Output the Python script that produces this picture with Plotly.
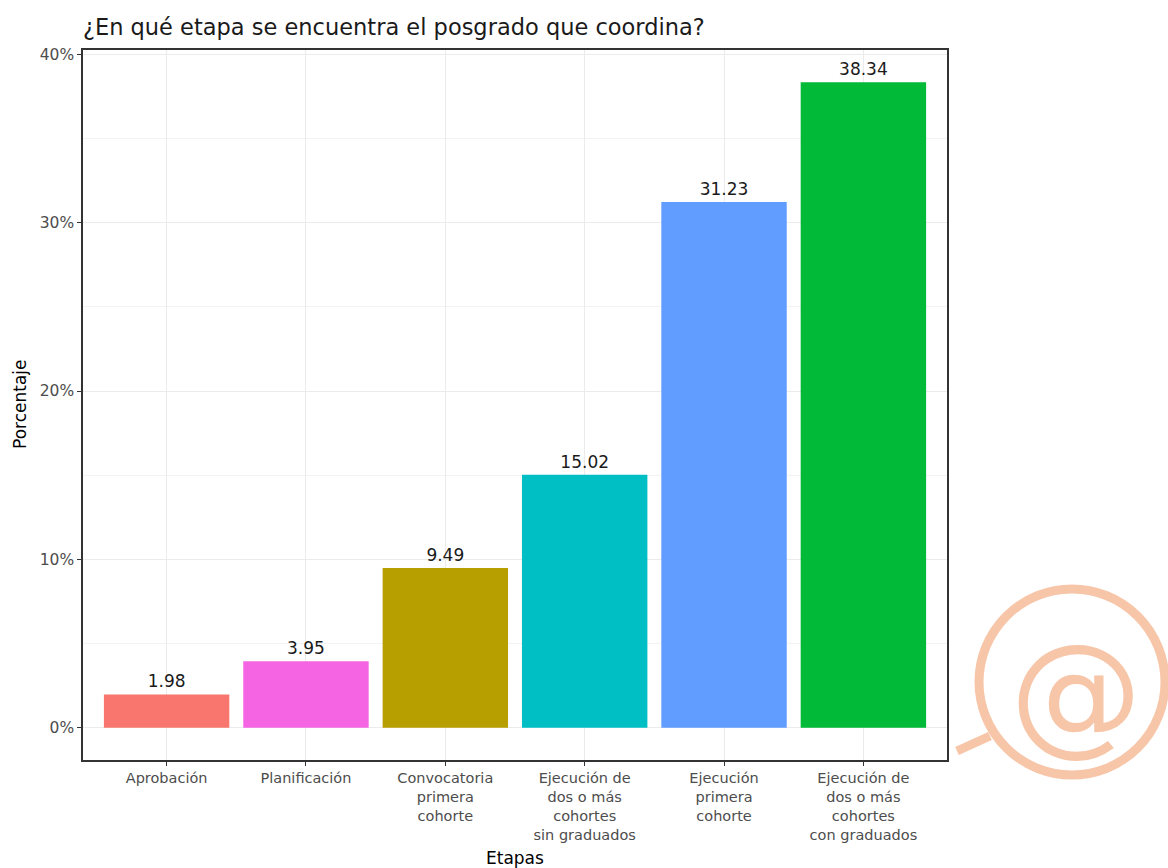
import plotly.graph_objects as go

# Survey results: stage of the graduate programme
etapas = [
    "Aprobación",
    "Planificación",
    "Convocatoria<br>primera<br>cohorte",
    "Ejecución de<br>dos o más<br>cohortes<br>sin graduados",
    "Ejecución<br>primera<br>cohorte",
    "Ejecución de<br>dos o más<br>cohortes<br>con graduados",
]
porcentajes = [1.98, 3.95, 9.49, 15.02, 31.23, 38.34]
colores = ["#F8766D", "#F564E3", "#B79F00", "#00BFC4", "#619CFF", "#00BA38"]
y_ticks = [0, 10, 20, 30, 40]
y_tick_labels = ["0%", "10%", "20%", "30%", "40%"]
y_minor = [5, 15, 25, 35]

FONT = "DejaVu Sans"
W, H = 1168, 868
L, R, T, B = 83, 221, 50, 108
pw, ph = W - L - R, H - T - B

xs = list(range(1, len(etapas) + 1))

fig = go.Figure()
fig.add_trace(go.Bar(
    x=xs, y=porcentajes, width=0.9,
    marker=dict(color=colores, line=dict(width=0)),
    text=[f"{v:.2f}" for v in porcentajes],
    textposition="outside", cliponaxis=False,
    textfont=dict(family=FONT, size=17, color="#1a1a1a"),
    showlegend=False, hoverinfo="skip",
))

ymax = max(porcentajes)
pad = 0.05 * ymax


def px(x):
    """pixel x -> paper x"""
    return (x - L) / pw


def py(y):
    """pixel y -> paper y"""
    return 1 - (y - T) / ph


# watermark: magnifying glass with "@"
wm = "#F7C6A9"
cx, cy, r = 1072, 682, 93
shapes = [
    dict(type="circle", xref="paper", yref="paper",
         x0=px(cx - r), x1=px(cx + r), y0=py(cy + r), y1=py(cy - r),
         line=dict(color=wm, width=9), layer="above"),
    dict(type="line", xref="paper", yref="paper",
         x0=px(957), y0=py(751), x1=px(990), y1=py(736),
         line=dict(color=wm, width=9), layer="above"),
]

annotations = [
    dict(text="@", xref="paper", yref="paper",
         x=px(1076), y=py(692), xanchor="center", yanchor="middle",
         showarrow=False, font=dict(family=FONT, size=132, color=wm)),
    dict(text="Etapas", xref="paper", yref="paper",
         x=px(515), y=py(858), xanchor="center", yanchor="middle",
         showarrow=False, font=dict(family=FONT, size=17, color="#000000")),
    dict(text="Porcentaje", xref="paper", yref="paper", textangle=-90,
         x=px(20), y=py(404), xanchor="center", yanchor="middle",
         showarrow=False, font=dict(family=FONT, size=17, color="#000000")),
]

fig.update_layout(
    width=W, height=H,
    margin=dict(l=L, r=R, t=T, b=B, autoexpand=False),
    paper_bgcolor="white", plot_bgcolor="white",
    title=dict(text="¿En qué etapa se encuentra el posgrado que coordina?",
               xref="container", x=83 / W, xanchor="left",
               yref="container", y=1 - 27 / H, yanchor="middle",
               font=dict(family=FONT, size=22.5, color="#1a1a1a")),
    font=dict(family=FONT, color="#4D4D4D"),
    shapes=shapes,
    annotations=annotations,
)

fig.update_xaxes(
    range=[0.4, len(etapas) + 0.6],
    tickmode="array", tickvals=xs, ticktext=etapas,
    tickfont=dict(family=FONT, size=14.5, color="#4D4D4D"),
    ticks="outside", ticklen=4, tickcolor="#333333",
    showgrid=True, gridcolor="#EBEBEB", gridwidth=1,
    showline=True, linecolor="#333333", linewidth=1.5, mirror=True,
    zeroline=False,
)
fig.update_yaxes(
    range=[-pad, ymax + pad],
    tickmode="array", tickvals=y_ticks, ticktext=y_tick_labels,
    tickfont=dict(family=FONT, size=15.5, color="#4D4D4D"),
    ticks="outside", ticklen=4, tickcolor="#333333",
    showgrid=True, gridcolor="#EBEBEB", gridwidth=1,
    minor=dict(tickvals=y_minor, showgrid=True, gridcolor="#F3F3F3", gridwidth=0.8),
    showline=True, linecolor="#333333", linewidth=1.5, mirror=True,
    zeroline=False,
)

fig.write_html("out.html")
